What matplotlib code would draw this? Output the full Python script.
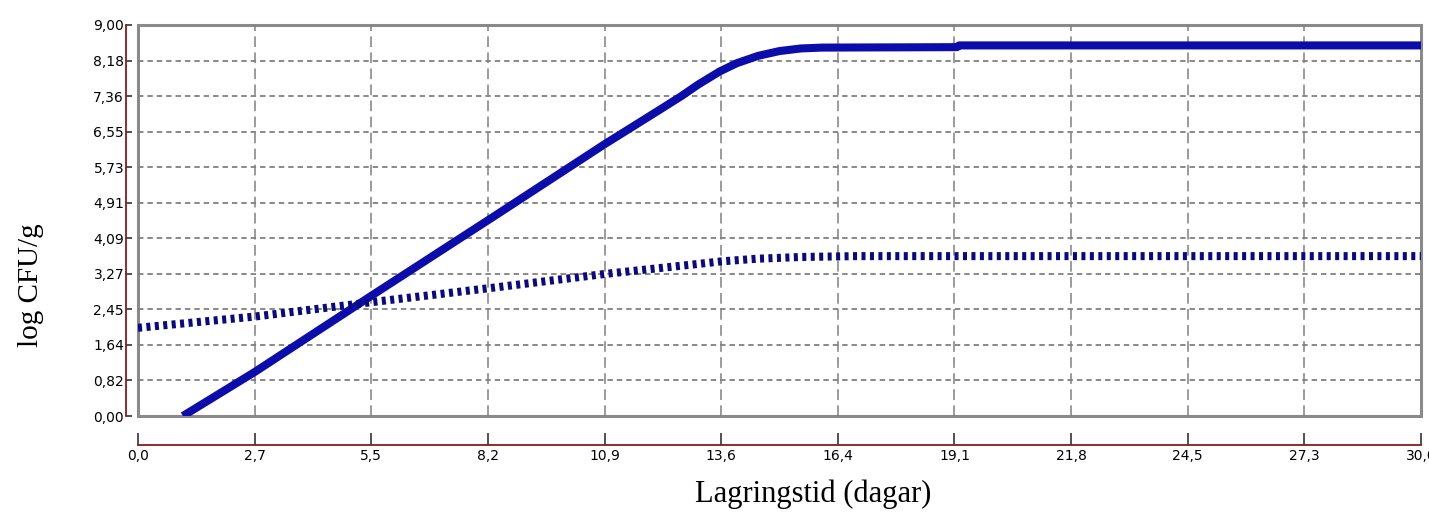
import matplotlib
matplotlib.use('Agg')
import matplotlib.pyplot as plt

# storage time (days) and log CFU/g
solid_t = [1.05, 2.74, 5.46, 8.3, 10.9, 11.6, 12.2, 12.7, 13.1, 13.6, 14.0, 14.5, 15.0, 15.5, 16.0, 19.15, 19.2, 30.0]
solid_v = [0.0, 1.02, 2.77, 4.58, 6.25, 6.68, 7.05, 7.36, 7.63, 7.93, 8.12, 8.29, 8.4, 8.46, 8.48, 8.49, 8.53, 8.53]

dotted_t = [0.0, 2.74, 5.46, 8.19, 10.92, 13.0, 13.65, 14.47, 15.5, 16.8, 30.0]
dotted_v = [2.03, 2.29, 2.62, 2.94, 3.27, 3.49, 3.56, 3.62, 3.66, 3.68, 3.68]

x_ticks = [30 * k / 11 for k in range(12)]
x_labels = ['0,0', '2,7', '5,5', '8,2', '10,9', '13,6', '16,4', '19,1', '21,8', '24,5', '27,3', '30,0']
y_ticks = [9 * k / 11 for k in range(12)]
y_labels = ['0,00', '0,82', '1,64', '2,45', '3,27', '4,09', '4,91', '5,73', '6,55', '7,36', '8,18', '9,00']

tick_font = ['Liberation Sans Narrow', 'DejaVu Sans Condensed', 'Liberation Sans']
serif = ['Liberation Serif', 'DejaVu Serif']

fig = plt.figure(figsize=(14.29, 5.2), dpi=100)
ax = fig.add_axes([138 / 1429, 104 / 520, 1283 / 1429, 391 / 520])

ax.plot(solid_t, solid_v, color='#0c0caa', lw=5.8, solid_capstyle='butt',
        solid_joinstyle='round', zorder=3)
ax.plot(dotted_t, dotted_v, color='#0a0a78', lw=5.8, linestyle=(0, (0.5, 0.55)),
        dash_capstyle='butt', zorder=3)

ax.set_xlim(0, 30)
ax.set_ylim(0, 9)
ax.set_xticks(x_ticks)
ax.set_xticklabels(x_labels, family=tick_font, fontsize=10, color='#222222')
ax.set_yticks(y_ticks)
ax.set_yticklabels(y_labels, family=tick_font, fontsize=10, color='#222222')

# grid
for yv in y_ticks[1:-1]:
    ax.axhline(yv, color='#808080', lw=1.3, linestyle=(0, (3, 2.2)), zorder=1)
for xv in x_ticks[1:-1]:
    ax.axvline(xv, color='#808080', lw=1.1, linestyle=(0, (7, 3.5)), zorder=1)

# gray frame around the plotting area
ax.patch.set_edgecolor('#8a8a8a')
ax.patch.set_linewidth(2.2)
ax.spines['top'].set_visible(False)
ax.spines['right'].set_visible(False)

# detached red axis lines
ax.spines['left'].set_position(('outward', 9))
ax.spines['bottom'].set_position(('outward', 21))
for s in ('left', 'bottom'):
    ax.spines[s].set_color('#8b1a1a')
    ax.spines[s].set_linewidth(1.3)
ax.tick_params(axis='y', direction='in', length=4, width=1.2, color='#333333', pad=1)
ax.tick_params(axis='x', direction='in', length=9, width=1.2, color='#333333', pad=3)

fig.text(813 / 1429, 1 - 494 / 520, 'Lagringstid (dagar)', family=serif, fontsize=22,
         ha='center', va='center')
fig.text(31 / 1429, 1 - 285 / 520, 'log CFU/g', family=serif, fontsize=21,
         rotation=90, ha='center', va='center')

fig.savefig('out.png', dpi=100)
